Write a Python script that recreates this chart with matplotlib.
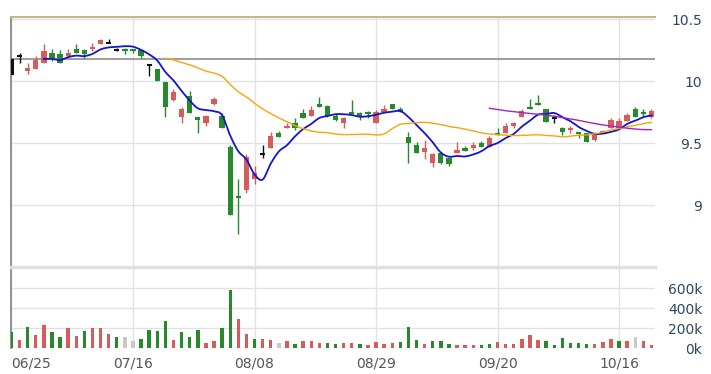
import numpy as np
import pandas as pd
import matplotlib
matplotlib.use('Agg')
import matplotlib.pyplot as plt

# Daily candles, 06/25 .. 10/16 (80 trading days)
opens = [10.05, 10.20, 10.08, 10.10, 10.15, 10.23, 10.22, 10.20, 10.26, 10.25,
         10.26, 10.30, 10.31, 10.25, 10.26, 10.26, 10.25, 10.13, 10.10, 9.99,
         9.85, 9.71, 9.88, 9.71, 9.66, 9.82, 9.72, 9.47, 9.07, 9.12,
         9.21, 9.41, 9.46, 9.58, 9.62, 9.66, 9.74, 9.72, 9.82, 9.80,
         9.72, 9.66, 9.75, 9.74, 9.75, 9.66, 9.75, 9.82, 9.78, 9.55,
         9.49, 9.43, 9.34, 9.42, 9.38, 9.42, 9.46, 9.46, 9.50, 9.47,
         9.58, 9.58, 9.64, 9.71, 9.79, 9.82, 9.78, 9.70, 9.62, 9.61,
         9.59, 9.58, 9.53, 9.58, 9.62, 9.62, 9.68, 9.78, 9.75, 9.71]
highs = [10.19, 10.23, 10.15, 10.20, 10.30, 10.26, 10.25, 10.26, 10.30, 10.26,
         10.31, 10.34, 10.34, 10.27, 10.27, 10.26, 10.26, 10.13, 10.10, 9.99,
         9.94, 9.79, 9.92, 9.71, 9.73, 9.87, 9.74, 9.49, 9.21, 9.41,
         9.32, 9.49, 9.59, 9.60, 9.66, 9.70, 9.78, 9.80, 9.87, 9.81,
         9.74, 9.71, 9.85, 9.75, 9.76, 9.77, 9.81, 9.82, 9.79, 9.59,
         9.51, 9.53, 9.42, 9.43, 9.39, 9.51, 9.48, 9.51, 9.52, 9.56,
         9.62, 9.66, 9.67, 9.78, 9.86, 9.89, 9.78, 9.73, 9.63, 9.64,
         9.59, 9.58, 9.59, 9.61, 9.70, 9.70, 9.74, 9.79, 9.78, 9.78]
lows = [10.05, 10.15, 10.06, 10.10, 10.15, 10.16, 10.15, 10.19, 10.23, 10.19,
        10.24, 10.30, 10.31, 10.24, 10.22, 10.23, 10.19, 10.04, 10.00, 9.71,
        9.84, 9.66, 9.74, 9.58, 9.64, 9.81, 9.62, 8.92, 8.77, 9.10,
        9.17, 9.38, 9.46, 9.55, 9.62, 9.61, 9.70, 9.72, 9.79, 9.71,
        9.68, 9.62, 9.74, 9.69, 9.70, 9.66, 9.75, 9.78, 9.75, 9.34,
        9.42, 9.37, 9.31, 9.33, 9.32, 9.42, 9.44, 9.45, 9.47, 9.47,
        9.57, 9.58, 9.62, 9.71, 9.78, 9.81, 9.67, 9.66, 9.57, 9.58,
        9.54, 9.51, 9.52, 9.58, 9.62, 9.62, 9.68, 9.71, 9.71, 9.70]
closes = [10.18, 10.20, 10.11, 10.17, 10.24, 10.18, 10.15, 10.23, 10.23, 10.22,
          10.27, 10.33, 10.31, 10.25, 10.25, 10.25, 10.20, 10.13, 10.00, 9.79,
          9.91, 9.78, 9.74, 9.69, 9.72, 9.86, 9.62, 8.92, 9.06, 9.39,
          9.26, 9.41, 9.56, 9.55, 9.64, 9.62, 9.70, 9.77, 9.79, 9.72,
          9.69, 9.70, 9.74, 9.72, 9.74, 9.75, 9.78, 9.78, 9.75, 9.50,
          9.42, 9.46, 9.41, 9.34, 9.33, 9.45, 9.44, 9.49, 9.47, 9.54,
          9.57, 9.64, 9.66, 9.76, 9.78, 9.81, 9.67, 9.70, 9.59, 9.62,
          9.58, 9.51, 9.58, 9.60, 9.69, 9.68, 9.73, 9.71, 9.74, 9.76]
# r = up day, g = down day, k = open equals close
candle_col = list('kkrrrggrgg' 'rrkkgggkgg'
                  'rrggrrgggr' 'rkrgrggrgg'
                  'grgggrrggg' 'grrggrgrgr'
                  'grrrgggkgr' 'ggrrrrrggr')

# volume in thousands, coloured against previous close (e = unchanged)
volumes = [156, 83, 216, 133, 233, 156, 106, 206, 123, 173,
           206, 206, 143, 106, 106, 73, 93, 183, 173, 273,
           83, 156, 106, 183, 53, 73, 206, 583, 293, 143,
           93, 93, 83, 53, 73, 43, 73, 73, 53, 53,
           43, 53, 50, 43, 33, 57, 43, 50, 57, 207,
           83, 43, 67, 67, 43, 33, 33, 33, 33, 43,
           57, 43, 43, 93, 127, 83, 67, 27, 100, 50,
           50, 43, 43, 57, 93, 67, 67, 107, 67, 27]
vol_col = list('grgrrggrrg' 'rrrgeegggg'
               'rgggrrggrr' 'grrergrrrg'
               'grrgrrrrgg' 'grgggrrrgg'
               'rrrrrrgggg' 'ggrrrgrerr')

tick_pos = [0, 15, 30, 45, 60, 75]
tick_labels = ['06/25', '07/16', '08/08', '08/29', '09/20', '10/16']
prev_close = 10.18

colors = {'r': '#d65c5c', 'g': '#26892c', 'k': '#111111', 'e': '#c8c8c8'}


def spline(xs, ys, n=10):
    # catmull-rom, the chart draws its averages as smooth curves
    px, py = [], []
    t = np.linspace(0, 1, n, endpoint=False)
    for i in range(len(xs) - 1):
        p0 = ys[max(i - 1, 0)]
        p1 = ys[i]
        p2 = ys[i + 1]
        p3 = ys[min(i + 2, len(ys) - 1)]
        py.extend(0.5 * (2 * p1 + (-p0 + p2) * t + (2 * p0 - 5 * p1 + 4 * p2 - p3) * t ** 2
                         + (-p0 + 3 * p1 - 3 * p2 + p3) * t ** 3))
        px.extend(xs[i] + t * (xs[i + 1] - xs[i]))
    px.append(xs[-1])
    py.append(ys[-1])
    return px, py


fig = plt.figure(figsize=(7.11, 3.74), dpi=100)
ax = fig.add_axes([11 / 711, 1 - 267 / 374, 644 / 711, 250 / 374])
axv = fig.add_axes([11 / 711, 1 - 348 / 374, 644 / 711, 81 / 374], sharex=ax)

x = np.arange(len(closes))

for i in x:
    c = colors[candle_col[i]]
    ax.vlines(i, lows[i], highs[i], color=c, lw=1, zorder=2)
    lo = min(opens[i], closes[i])
    h = abs(closes[i] - opens[i])
    if h < 0.012:
        ax.hlines((opens[i] + closes[i]) / 2, i - 0.33, i + 0.33, color=c, lw=1.5, zorder=3)
    else:
        ax.bar(i, h, bottom=lo, width=0.66, color=c, zorder=3)

s = pd.Series(closes)
for n, col, lw in [(5, '#1414cc', 1.3), (20, '#f5a50f', 1.0), (60, '#a024c8', 1.0)]:
    ma = s.rolling(n).mean()
    ok = ~ma.isna()
    px, py = spline(list(x[ok]), list(ma[ok]))
    ax.plot(px, py, color=col, lw=lw, zorder=4)

ax.axhline(prev_close, color='#8c8c8c', lw=1.2, zorder=1)

ax.set_xlim(-0.06, 79.44)
ax.set_ylim(8.504, 10.517)
ax.set_yticks([9, 9.5, 10, 10.5])
ax.set_yticklabels(['9', '9.5', '10', '10.5'])
ax.yaxis.tick_right()
ax.tick_params(axis='y', length=0, pad=34, labelsize=10, labelcolor='#2b4766')
for lab in ax.get_yticklabels():
    lab.set_horizontalalignment('right')
ax.tick_params(axis='x', length=0, labelbottom=False)
ax.set_xticks(tick_pos)
ax.grid(True, color='#e2e2e2', lw=1, zorder=0)
ax.set_axisbelow(True)
for side in ['right', 'bottom']:
    ax.spines[side].set_visible(False)
ax.spines['top'].set_color('#c5b78c')
ax.spines['top'].set_linewidth(1.5)
ax.spines['left'].set_color('#808080')
ax.spines['left'].set_linewidth(1.2)

# volume panel
axv.bar(x, volumes, width=0.42, color=[colors[c] for c in vol_col], zorder=3)
axv.set_ylim(0, 815)
axv.set_yticks([0, 200, 400, 600])
axv.set_yticklabels(['0k', '200k', '400k', '600k'])
axv.yaxis.tick_right()
axv.tick_params(axis='y', length=0, pad=34, labelsize=10, labelcolor='#2b4766')
for lab in axv.get_yticklabels():
    lab.set_horizontalalignment('right')
axv.set_xticks(tick_pos)
axv.set_xticklabels(tick_labels)
axv.tick_params(axis='x', length=0, pad=6, labelsize=10, labelcolor='#555555')
axv.get_xticklabels()[0].set_horizontalalignment('left')
axv.grid(True, color='#e2e2e2', lw=1, zorder=0)
axv.set_axisbelow(True)
for side in ['right', 'bottom']:
    axv.spines[side].set_visible(False)
axv.spines['top'].set_color('#e0e0e0')
axv.spines['top'].set_linewidth(2.5)
axv.spines['left'].set_color('#808080')
axv.spines['left'].set_linewidth(1.2)

fig.savefig('out.png', dpi=100)
